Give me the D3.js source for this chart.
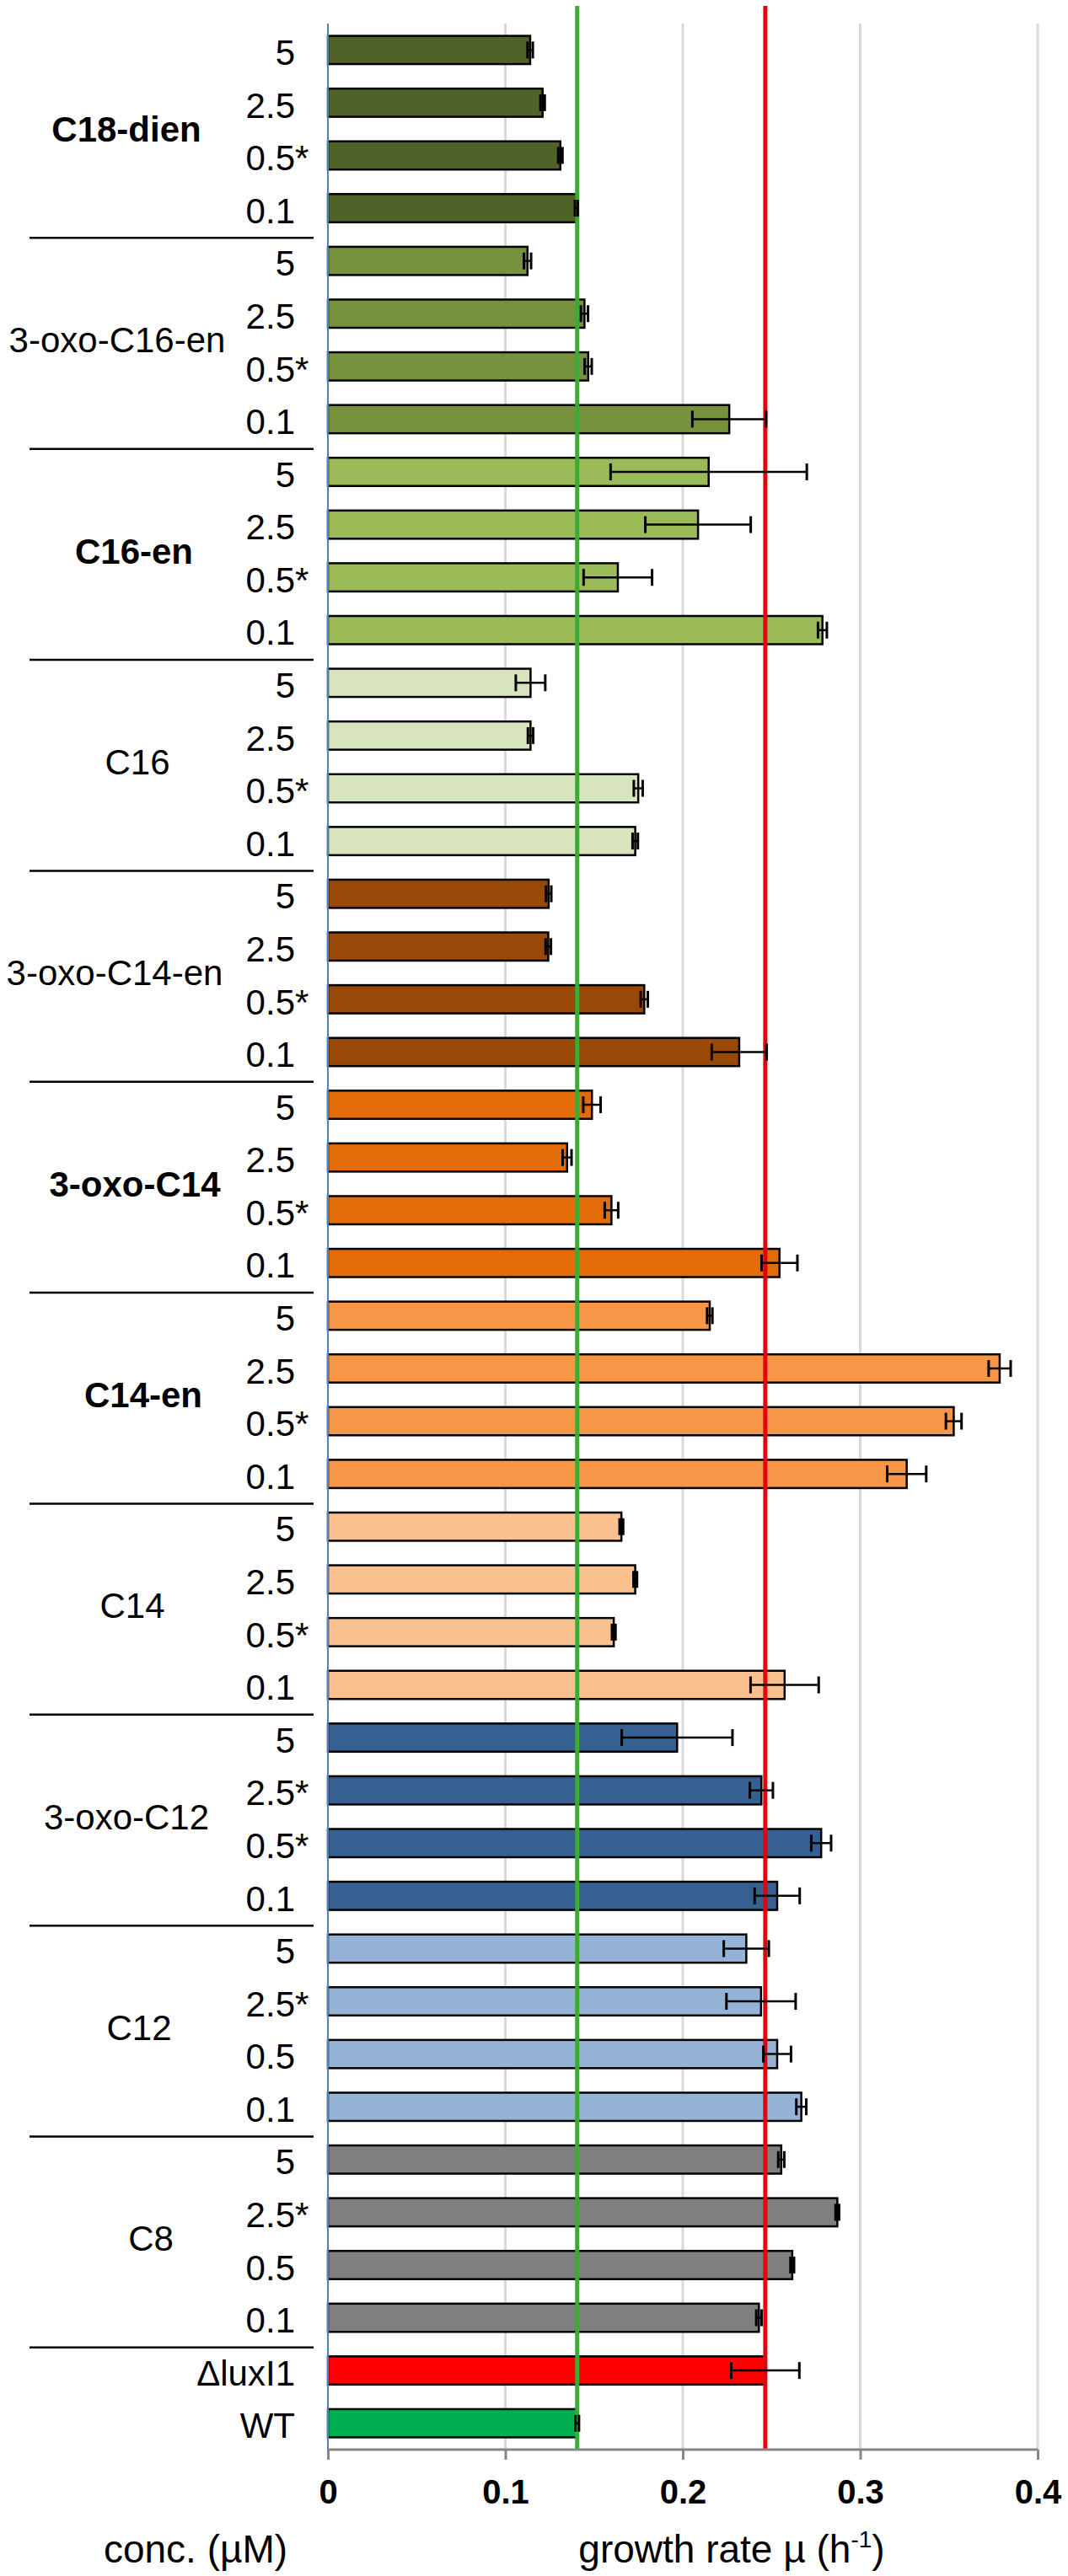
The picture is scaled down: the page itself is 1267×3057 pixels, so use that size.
<!DOCTYPE html>
<html lang="en">
<head>
	<meta charset="UTF-8">
	<title>growth rate</title>
	<style>
		body { margin: 0; background: #fff; }
		svg { display: block; font-family: "Liberation Sans", Arial, sans-serif; }
	</style>
</head>
<body>
	<svg id="chart" width="1267" height="3057"></svg>
	<script src="https://cdn.jsdelivr.net/npm/d3@7"></script>
	<script>
		// group names, top to bottom
		var groups = ["C18-dien", "3-oxo-C16-en", "C16-en", "C16", "3-oxo-C14-en", "3-oxo-C14",
			"C14-en", "C14", "3-oxo-C12", "C12", "C8"];
		var boldGroups = ["C18-dien", "C16-en", "3-oxo-C14", "C14-en"];
		var groupColors = ["#4F6228", "#76923C", "#9BBB59", "#D7E4BD", "#984807", "#E36C09",
			"#F79646", "#FAC090", "#376092", "#95B3D7", "#7F7F7F"];

		// concentration labels (uM) for each group
		var concLabels = [
			["5", "2.5", "0.5*", "0.1"],
			["5", "2.5", "0.5*", "0.1"],
			["5", "2.5", "0.5*", "0.1"],
			["5", "2.5", "0.5*", "0.1"],
			["5", "2.5", "0.5*", "0.1"],
			["5", "2.5", "0.5*", "0.1"],
			["5", "2.5", "0.5*", "0.1"],
			["5", "2.5", "0.5*", "0.1"],
			["5", "2.5*", "0.5*", "0.1"],
			["5", "2.5*", "0.5", "0.1"],
			["5", "2.5*", "0.5", "0.1"]
		];

		// growth rate mu (1/h), one row per group
		var growth = [
			[0.114, 0.121, 0.131, 0.140],
			[0.1125, 0.1446, 0.1467, 0.2262],
			[0.2146, 0.2086, 0.1634, 0.2787],
			[0.1142, 0.1142, 0.1749, 0.1732],
			[0.1244, 0.1242, 0.1783, 0.2318],
			[0.1488, 0.1348, 0.1598, 0.2545],
			[0.2152, 0.3786, 0.3527, 0.3262],
			[0.1654, 0.1732, 0.1611, 0.2574],
			[0.1968, 0.2443, 0.278, 0.2532],
			[0.2358, 0.2441, 0.2532, 0.2668],
			[0.2555, 0.2871, 0.2617, 0.2429]
		];
		// standard deviation
		var errors = [
			[0.0015, 0.0012, 0.0012, 0.0008],
			[0.002, 0.002, 0.002, 0.0208],
			[0.0553, 0.0297, 0.0193, 0.0025],
			[0.0083, 0.0015, 0.0025, 0.0015],
			[0.0015, 0.0015, 0.002, 0.0155],
			[0.0049, 0.0025, 0.0038, 0.0101],
			[0.0015, 0.0062, 0.0044, 0.011],
			[0.001, 0.001, 0.001, 0.0192],
			[0.0312, 0.0065, 0.0056, 0.0127],
			[0.0127, 0.0195, 0.0078, 0.0028],
			[0.0017, 0.001, 0.001, 0.0015]
		];

		// controls
		var controls = ["\u0394luxI1", "WT"];
		var controlGrowth = [0.2465, 0.1405];
		var controlErrors = [0.0192, 0.001];
		var controlColors = ["#FF0000", "#00B050"];
		var refColors = ["#E3000F", "#3DAA35"];

		var xTicks = [0, 0.1, 0.2, 0.3, 0.4];

		// layout
		var plotTop = 28, plotBottom = 2907, plotLeft = 389, plotRight = 1231;
		var labelRight = 350;
		var groupLabelCx = [150, 139, 159, 163, 136, 160, 170, 157, 150, 165, 179];

		// flatten rows into one list of bars
		var rows = [];
		groups.forEach(function(g, gi) {
			growth[gi].forEach(function(v, ci) {
				rows.push({ group: gi, label: concLabels[gi][ci], value: v, err: errors[gi][ci], color: groupColors[gi] });
			});
		});
		controls.forEach(function(c, i) {
			rows.push({ group: -1, label: c, value: controlGrowth[i], err: controlErrors[i], color: controlColors[i] });
		});
		rows.forEach(function(d, i) { d.i = i; });

		var svg = d3.select("#chart");

		var x = d3.scaleLinear().domain([0, 0.4]).range([plotLeft, plotRight]);
		var y = d3.scaleBand()
			.domain(rows.map(function(d) { return d.i; }))
			.range([plotTop, plotBottom])
			.paddingInner(0.465)
			.paddingOuter(0.2325);
		var mid = function(i) { return y(i) + y.bandwidth() / 2; };

		// gridlines
		svg.append("g").selectAll("line").data(xTicks.slice(1)).enter().append("line")
			.attr("x1", function(d) { return x(d); }).attr("x2", function(d) { return x(d); })
			.attr("y1", plotTop).attr("y2", plotBottom)
			.style("stroke", "#D9D9D9").style("stroke-width", 3);

		// bars
		svg.append("g").selectAll("rect").data(rows).enter().append("rect")
			.attr("x", x(0))
			.attr("y", function(d) { return y(d.i); })
			.attr("width", function(d) { return x(d.value) - x(0); })
			.attr("height", y.bandwidth())
			.style("fill", function(d) { return d.color; })
			.style("stroke", "#000").style("stroke-width", 2.5);

		// category axis line
		svg.append("line")
			.attr("x1", plotLeft).attr("x2", plotLeft).attr("y1", plotTop).attr("y2", plotBottom)
			.style("stroke", "#4F81BD").style("stroke-width", 2);

		// reference lines at control values
		svg.append("g").selectAll("line").data(controlGrowth).enter().append("line")
			.attr("x1", function(d) { return x(d); }).attr("x2", function(d) { return x(d); })
			.attr("y1", 7).attr("y2", plotBottom)
			.style("stroke", function(d, i) { return refColors[i]; })
			.style("stroke-width", 5);

		// error bars
		var eb = svg.append("g").selectAll("g").data(rows).enter().append("g");
		eb.append("line")
			.attr("x1", function(d) { return x(d.value - d.err); })
			.attr("x2", function(d) { return x(d.value + d.err); })
			.attr("y1", function(d) { return mid(d.i); }).attr("y2", function(d) { return mid(d.i); })
			.style("stroke", "#000").style("stroke-width", 2.5);
		[-1, 1].forEach(function(s) {
			eb.append("line")
				.attr("x1", function(d) { return x(d.value + s * d.err); })
				.attr("x2", function(d) { return x(d.value + s * d.err); })
				.attr("y1", function(d) { return mid(d.i) - 10; })
				.attr("y2", function(d) { return mid(d.i) + 10; })
				.style("stroke", "#000").style("stroke-width", 3);
		});

		// x axis
		var xAxis = d3.axisBottom(x).tickValues(xTicks)
			.tickFormat(function(d) { return String(d); })
			.tickSize(12).tickPadding(24);
		var ax = svg.append("g").attr("transform", "translate(0," + plotBottom + ")").call(xAxis);
		ax.select(".domain").attr("d", "M" + plotLeft + ",0H" + plotRight)
			.style("stroke", "#868686").style("stroke-width", 3);
		ax.selectAll(".tick line").style("stroke", "#868686").style("stroke-width", 3);
		ax.selectAll(".tick text")
			.style("font-family", "'Liberation Sans', Arial, sans-serif")
			.style("font-size", "40px").style("font-weight", "bold").style("fill", "#000");

		// concentration labels
		var lab = svg.append("g").selectAll("text").data(rows).enter().append("text")
			.attr("x", labelRight)
			.attr("y", function(d) { return mid(d.i) + 3; })
			.attr("dy", "0.35em")
			.style("font-size", "42px").style("fill", "#000");
		lab.append("tspan")
			.attr("text-anchor", "end")
			.text(function(d) { return d.label.replace("*", ""); });
		svg.append("g").selectAll("text").data(rows.filter(function(d) { return d.label.indexOf("*") >= 0; }))
			.enter().append("text")
			.attr("x", labelRight)
			.attr("y", function(d) { return mid(d.i) + 3; })
			.attr("dy", "0.35em")
			.style("font-size", "42px").style("fill", "#000")
			.text("*");
		lab.attr("text-anchor", "end");

		// group labels
		svg.append("g").selectAll("text").data(groups).enter().append("text")
			.attr("x", function(d, gi) { return groupLabelCx[gi]; })
			.attr("y", function(d, gi) { return (mid(gi * 4 + 1) + mid(gi * 4 + 2)) / 2; })
			.attr("dy", "0.35em")
			.attr("text-anchor", "middle")
			.style("font-size", "42px")
			.style("font-weight", function(d) { return boldGroups.indexOf(d) >= 0 ? "bold" : "normal"; })
			.text(function(d) { return d; });

		// group separators
		var half = y.step() * y.paddingInner() / 2;
		svg.append("g").selectAll("line").data(groups).enter().append("line")
			.attr("x1", 35).attr("x2", 372)
			.attr("y1", function(d, gi) { return y(gi * 4 + 4) - half + 4; })
			.attr("y2", function(d, gi) { return y(gi * 4 + 4) - half + 4; })
			.style("stroke", "#000").style("stroke-width", 2.5);

		// axis titles
		svg.append("text").attr("x", 232).attr("y", 3041).attr("text-anchor", "middle")
			.style("font-size", "46px").text("conc. (\u00B5M)");
		var t = svg.append("text").attr("x", 868).attr("y", 3041).attr("text-anchor", "middle")
			.style("font-size", "46px");
		t.append("tspan").text("growth rate \u00B5 (h");
		t.append("tspan").attr("dy", -18).style("font-size", "28px").text("-1");
		t.append("tspan").attr("dy", 18).text(")");
	</script>
</body>
</html>
